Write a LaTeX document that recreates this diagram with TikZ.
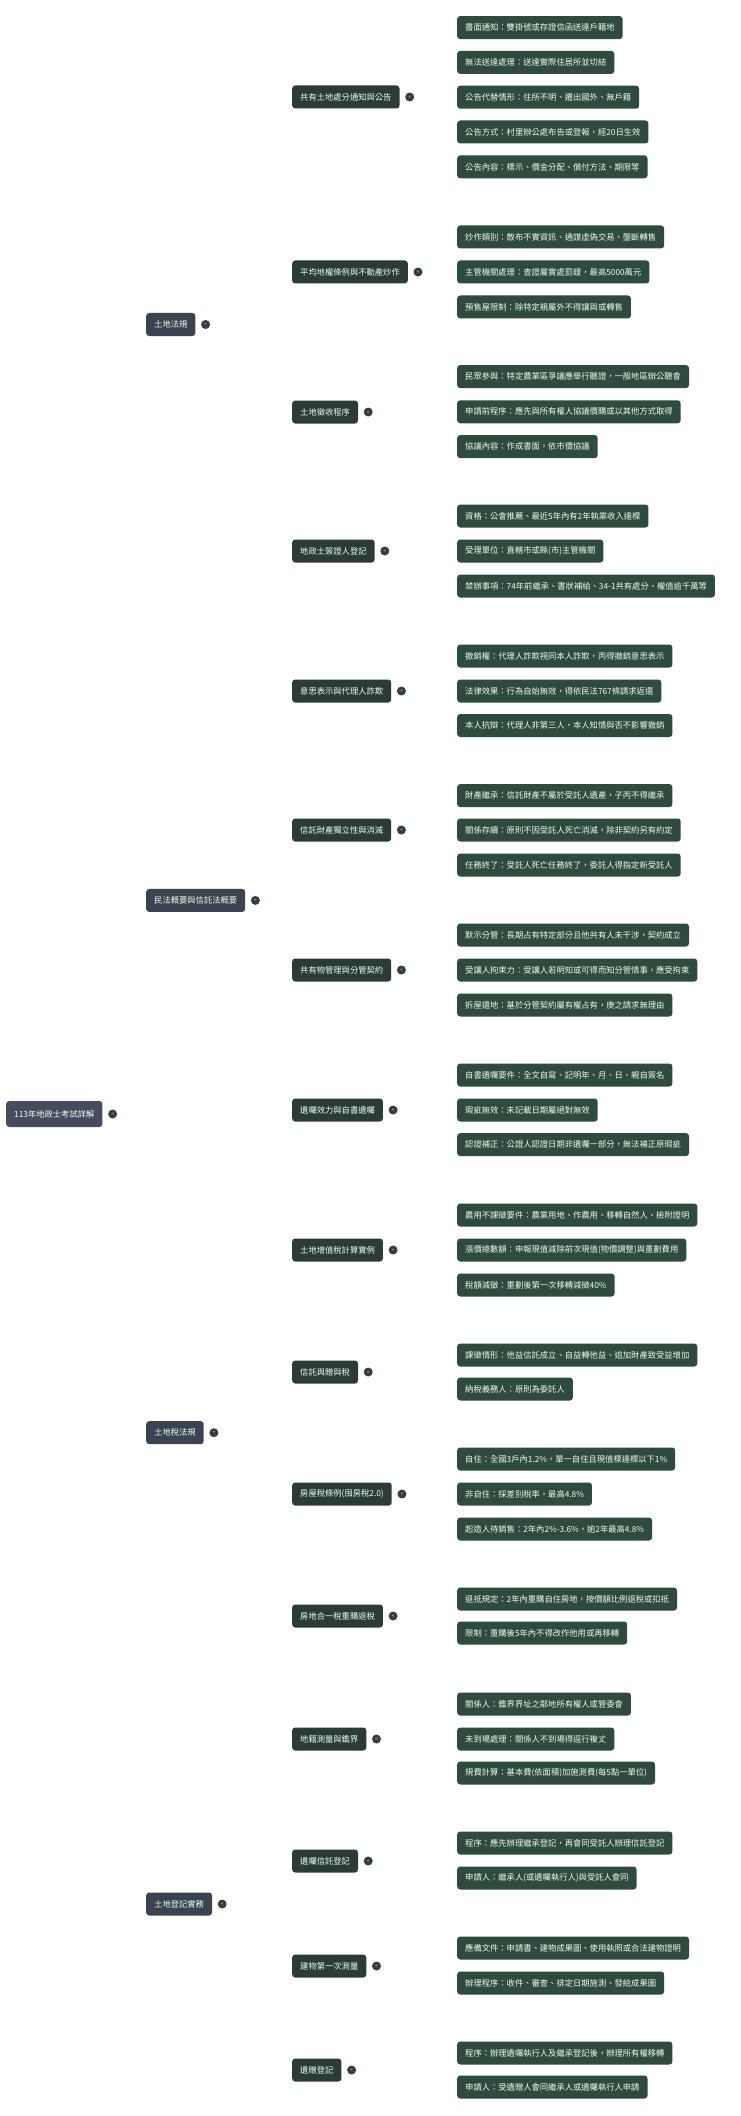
\documentclass[tikz,border=0pt]{standalone}
\usepackage{fontspec}
\setmainfont{Noto Sans CJK TC}
\usetikzlibrary{backgrounds}
\definecolor{leafc}{HTML}{2F4A3E}
\definecolor{midc}{HTML}{2C3B36}
\definecolor{topc}{HTML}{3C4350}
\definecolor{rootc}{HTML}{474B5E}
\definecolor{dotc}{HTML}{363D40}
\definecolor{lkA}{HTML}{8A8FE6}
\definecolor{lkB}{HTML}{A0A8D8}
\definecolor{lkC}{HTML}{80C8A8}
\tikzset{
 box/.style={anchor=west,rounded corners=3pt,text=white!92!green,minimum height=23pt,inner xsep=8pt,inner ysep=0pt,font=\fontsize{8.3}{10}\selectfont},
 leaf/.style={box,fill=leafc},
 mid/.style={box,fill=midc},
 top/.style={box,fill=topc},
 rootn/.style={box,fill=rootc,minimum height=26pt},
 dot/.style={circle,fill=dotc,minimum size=9pt,inner sep=0pt,text=white,font=\fontsize{4}{4}\selectfont},
 lnk/.style={out=0,in=180},
 lA/.style={draw=lkA,line width=0.6pt},
 lB/.style={draw=lkB,line width=0.6pt},
 lC/.style={draw=lkC,line width=0.8pt},
}
\begin{document}
\begin{tikzpicture}[x=1pt,y=-1pt]
\useasboundingbox[fill=white] (0,0) rectangle (740,2116);
% root
\node[rootn] (r) at (6,1114) {113年地政士考試詳解};
\node[dot] (rd) at ([xshift=10pt]r.east) {<};
% level 1
\node[top] (a1) at (146,324.5) {土地法規};
\node[dot] (a1d) at ([xshift=10pt]a1.east) {<};
\node[top] (a2) at (146,900.4) {民法概要與信託法概要};
\node[dot] (a2d) at ([xshift=10pt]a2.east) {<};
\node[top] (a3) at (146,1432.7) {土地稅法規};
\node[dot] (a3d) at ([xshift=10pt]a3.east) {<};
\node[top] (a4) at (146,1904) {土地登記實務};
\node[dot] (a4d) at ([xshift=10pt]a4.east) {<};
% level 2
\node[mid] (b1) at (292,97) {共有土地處分通知與公告};
\node[mid] (b2) at (292,272) {平均地權條例與不動產炒作};
\node[mid] (b3) at (292,412) {土地徵收程序};
\node[mid] (b4) at (292,551) {地政士簽證人登記};
\node[mid] (b5) at (292,691) {意思表示與代理人詐欺};
\node[mid] (b6) at (292,830) {信託財產獨立性與消滅};
\node[mid] (b7) at (292,970) {共有物管理與分管契約};
\node[mid] (b8) at (292,1110) {遺囑效力與自書遺囑};
\node[mid] (b9) at (292,1250) {土地增值稅計算實例};
\node[mid] (b10) at (292,1372) {信託與贈與稅};
\node[mid] (b11) at (292,1494) {房屋稅條例(囤房稅2.0)};
\node[mid] (b12) at (292,1616) {房地合一稅重購退稅};
\node[mid] (b13) at (292,1739) {地籍測量與鑑界};
\node[mid] (b14) at (292,1861) {遺囑信託登記};
\node[mid] (b15) at (292,1966) {建物第一次測量};
\node[mid] (b16) at (292,2070) {遺贈登記};
\foreach \i in {1,...,16}{\node[dot] (b\i d) at ([xshift=10pt]b\i.east) {<};}
% leaves
\node[leaf] (c1a) at (457,27.6) {書面通知：雙掛號或存證信函送達戶籍地};
\node[leaf] (c1b) at (457,62.4) {無法送達處理：送達實際住居所並切結};
\node[leaf] (c1c) at (457,97.2) {公告代替情形：住所不明、遷出國外、無戶籍};
\node[leaf] (c1d) at (457,132) {公告方式：村里辦公處布告或登報，經20日生效};
\node[leaf] (c1e) at (457,166.9) {公告內容：標示、價金分配、償付方法、期限等};
\node[leaf] (c2a) at (457,237) {炒作類別：散布不實資訊、通謀虛偽交易、壟斷轉售};
\node[leaf] (c2b) at (457,272) {主管機關處理：查證屬實處罰鍰，最高5000萬元};
\node[leaf] (c2c) at (457,307) {預售屋限制：除特定親屬外不得讓與或轉售};
\node[leaf] (c3a) at (457,376.6) {民眾參與：特定農業區爭議應舉行聽證，一般地區辦公聽會};
\node[leaf] (c3b) at (457,411.8) {申請前程序：應先與所有權人協議價購或以其他方式取得};
\node[leaf] (c3c) at (457,446.6) {協議內容：作成書面，依市價協議};
\node[leaf] (c4a) at (457,516) {資格：公會推薦、最近5年內有2年執業收入達標};
\node[leaf] (c4b) at (457,551) {受理單位：直轄市或縣(市)主管機關};
\node[leaf] (c4c) at (457,586) {禁辦事項：74年前繼承、書狀補給、34-1共有處分、權值逾千萬等};
\node[leaf] (c5a) at (457,656) {撤銷權：代理人詐欺視同本人詐欺，丙得撤銷意思表示};
\node[leaf] (c5b) at (457,691) {法律效果：行為自始無效，得依民法767條請求返還};
\node[leaf] (c5c) at (457,725.5) {本人抗辯：代理人非第三人，本人知情與否不影響撤銷};
\node[leaf] (c6a) at (457,795.6) {財產繼承：信託財產不屬於受託人遺產，子丙不得繼承};
\node[leaf] (c6b) at (457,830) {關係存續：原則不因受託人死亡消滅，除非契約另有約定};
\node[leaf] (c6c) at (457,865) {任務終了：受託人死亡任務終了，委託人得指定新受託人};
\node[leaf] (c7a) at (457,935) {默示分管：長期占有特定部分且他共有人未干涉，契約成立};
\node[leaf] (c7b) at (457,970) {受讓人拘束力：受讓人若明知或可得而知分管情事，應受拘束};
\node[leaf] (c7c) at (457,1005) {拆屋還地：基於分管契約屬有權占有，庚之請求無理由};
\node[leaf] (c8a) at (457,1075) {自書遺囑要件：全文自寫、記明年、月、日、親自簽名};
\node[leaf] (c8b) at (457,1110) {瑕疵無效：未記載日期屬絕對無效};
\node[leaf] (c8c) at (457,1144.6) {認證補正：公證人認證日期非遺囑一部分，無法補正原瑕疵};
\node[leaf] (c9a) at (457,1215) {農用不課徵要件：農業用地、作農用、移轉自然人、檢附證明};
\node[leaf] (c9b) at (457,1250) {漲價總數額：申報現值減除前次現值(物價調整)與重劃費用};
\node[leaf] (c9c) at (457,1285) {稅額減徵：重劃後第一次移轉減徵40\%};
\node[leaf] (c10a) at (457,1355) {課徵情形：他益信託成立、自益轉他益、追加財產致受益增加};
\node[leaf] (c10b) at (457,1389) {納稅義務人：原則為委託人};
\node[leaf] (c11a) at (457,1459) {自住：全國3戶內1.2\%，單一自住且現值標達標以下1\%};
\node[leaf] (c11b) at (457,1494) {非自住：採差別稅率，最高4.8\%};
\node[leaf] (c11c) at (457,1529) {起造人待銷售：2年內2\%-3.6\%，逾2年最高4.8\%};
\node[leaf] (c12a) at (457,1599) {退抵規定：2年內重購自住房地，按價額比例退稅或扣抵};
\node[leaf] (c12b) at (457,1633) {限制：重購後5年內不得改作他用或再移轉};
\node[leaf] (c13a) at (457,1704) {關係人：鑑界界址之鄰地所有權人或管委會};
\node[leaf] (c13b) at (457,1739) {未到場處理：關係人不到場得逕行複丈};
\node[leaf] (c13c) at (457,1773) {規費計算：基本費(依面積)加施測費(每5點一單位)};
\node[leaf] (c14a) at (457,1843) {程序：應先辦理繼承登記，再會同受託人辦理信託登記};
\node[leaf] (c14b) at (457,1878) {申請人：繼承人(或遺囑執行人)與受託人會同};
\node[leaf] (c15a) at (457,1948) {應備文件：申請書、建物成果圖、使用執照或合法建物證明};
\node[leaf] (c15b) at (457,1983) {辦理程序：收件、審查、排定日期施測、發給成果圖};
\node[leaf] (c16a) at (457,2053) {程序：辦理遺囑執行人及繼承登記後，辦理所有權移轉};
\node[leaf] (c16b) at (457,2087) {申請人：受遺贈人會同繼承人或遺囑執行人申請};
\begin{pgfonlayer}{background}
\path[lA] (rd.center) edge[lnk] (a1.west) edge[lnk] (a2.west) edge[lnk] (a3.west) edge[lnk] (a4.west);
\path[lB] (a1d.center) edge[lnk] (b1.west) edge[lnk] (b2.west) edge[lnk] (b3.west) edge[lnk] (b4.west);
\path[lB] (a2d.center) edge[lnk] (b5.west) edge[lnk] (b6.west) edge[lnk] (b7.west) edge[lnk] (b8.west);
\path[lB] (a3d.center) edge[lnk] (b9.west) edge[lnk] (b10.west) edge[lnk] (b11.west) edge[lnk] (b12.west);
\path[lB] (a4d.center) edge[lnk] (b13.west) edge[lnk] (b14.west) edge[lnk] (b15.west) edge[lnk] (b16.west);
\path[lC] (b1d.center) edge[lnk] (c1a.west) edge[lnk] (c1b.west) edge[lnk] (c1c.west) edge[lnk] (c1d.west) edge[lnk] (c1e.west);
\foreach \i in {2,...,9,11,13}{
 \path[lC] (b\i d.center) edge[lnk] (c\i a.west) edge[lnk] (c\i b.west) edge[lnk] (c\i c.west);}
\foreach \i in {10,12,14,15,16}{
 \path[lC] (b\i d.center) edge[lnk] (c\i a.west) edge[lnk] (c\i b.west);}
\end{pgfonlayer}
\end{tikzpicture}
\end{document}
